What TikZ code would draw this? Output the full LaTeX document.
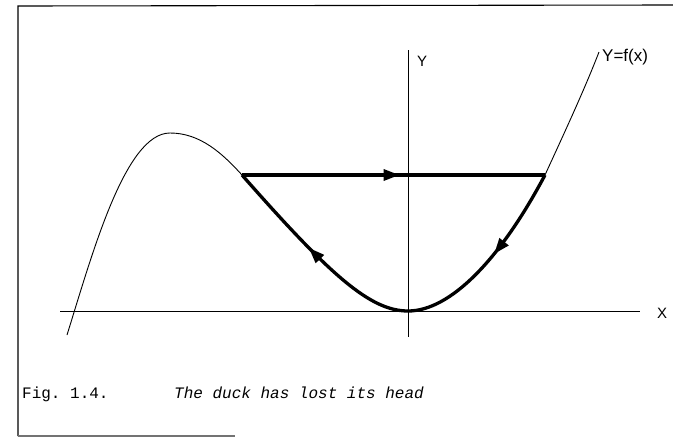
\documentclass[tikz,border=0pt]{standalone}
\usepackage{fontspec}
\newfontfamily\handfont{Liberation Sans}
\newfontfamily\twfont{Liberation Mono}
\usetikzlibrary{arrows.meta,decorations.markings}
\tikzset{
  thinline/.style={line width=0.9pt},
  axisline/.style={line width=0.8pt},
  thickline/.style={line width=3.3pt, line join=round},
  framestyle/.style={line width=1.1pt},
  arrowat/.style={postaction={decorate},decoration={markings,
     mark=at position #1 with {\arrow{Triangle[length=16pt,width=11pt]}}}},
  handlab/.style={font=\handfont\fontsize{15}{15}\selectfont, inner sep=0pt, anchor=base west},
  caplab/.style={font=\twfont\fontsize{16}{16}\selectfont, inner sep=0pt, anchor=base west}
}
\begin{document}
\frenchspacing
\begin{tikzpicture}[x=1pt,y=-1pt]
\useasboundingbox (0,0) rectangle (673,437);
% frame
\coordinate (f1) at (673,5);
\coordinate (f2) at (18,6);
\coordinate (f3) at (18,436);
\coordinate (f4) at (235,436);
\draw[framestyle] (f1) -- (f2) -- (f3);
\draw[framestyle, black!55] (f3) -- (f4);
% axes
\coordinate (xa) at (60,311);
\coordinate (xb) at (640,311);
\coordinate (ya) at (408,50);
\coordinate (yb) at (408,337);
\draw[axisline] (xa) -- (xb);
\draw[axisline] (ya) -- (yb);
\node[handlab] (Xlab) at (657,318) {X};
\node[handlab] (Ylab) at (417,66) {Y};
\node[handlab, font=\handfont\fontsize{17}{17}\selectfont] (flab) at (602,61) {Y=f(x)};
% key points
\coordinate (S) at (67,335);
\coordinate (P) at (170,133);
\coordinate (A) at (242,175);
\coordinate (B) at (545,175);
\coordinate (O) at (408,311);
\coordinate (T) at (599,52);
% thin curve
\draw[thinline] (S) .. controls (92,255) and (125,133) .. (P)
                    .. controls (200,133) and (222,153) .. (A);
\draw[thinline] (B) .. controls (568,125) and (585,88) .. (T);
% thick loop
\draw[thickline, arrowat=0.52] (A) -- (B);
\draw[thickline, arrowat=0.47] (B) .. controls (500,260) and (450,311) .. (O);
\draw[thickline, arrowat=0.55] (O) .. controls (370,311) and (330,275) .. (A);
% caption
\node[caplab] (figlab) at (22,398) {Fig. 1.4.};
\node[caplab, font=\twfont\itshape\fontsize{16}{16}\selectfont] (caption) at (174,398) {The duck has lost its head};
\end{tikzpicture}
\end{document}
